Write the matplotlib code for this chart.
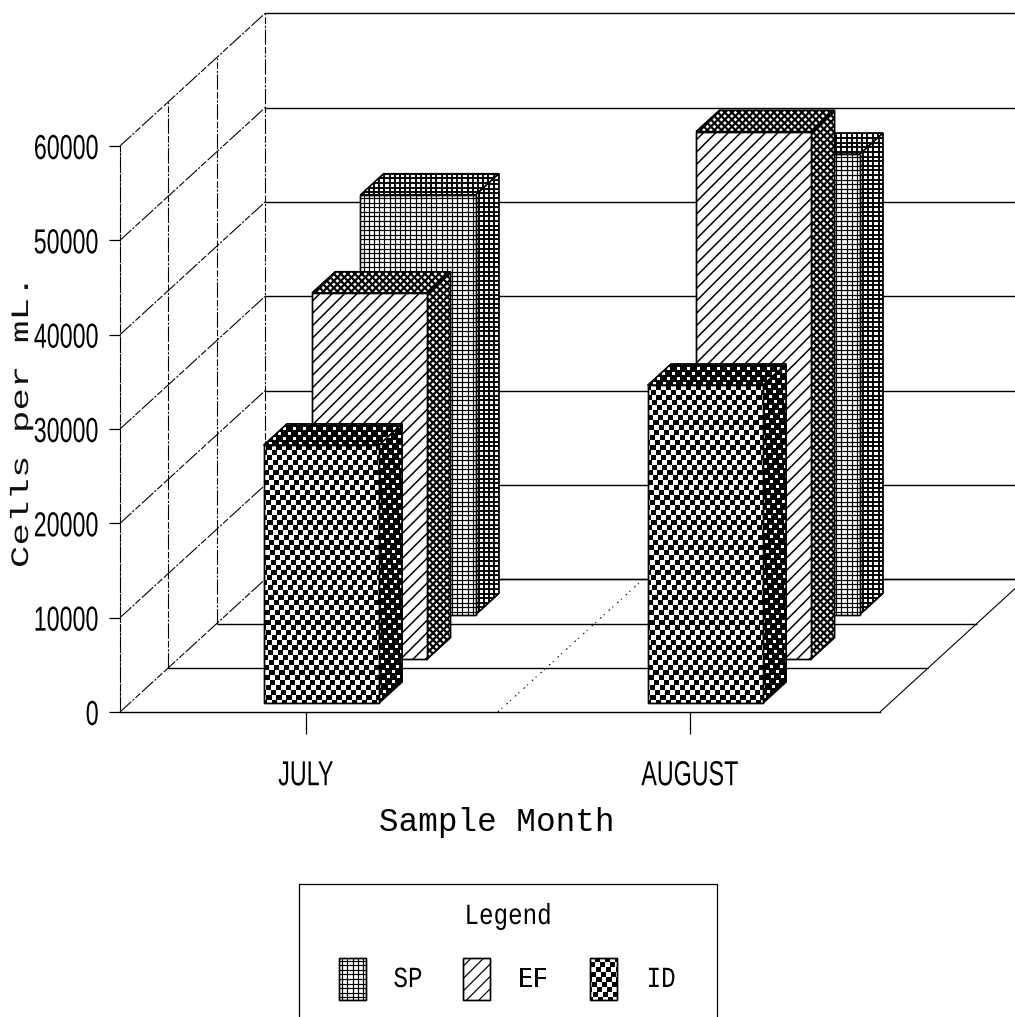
import numpy as np
import matplotlib
matplotlib.use('Agg')
import matplotlib.pyplot as plt
from matplotlib.patches import Polygon
from matplotlib.collections import LineCollection, PolyCollection
from matplotlib.patheffects import AbstractPathEffect
from matplotlib.transforms import IdentityTransform, Affine2D

months = ['JULY', 'AUGUST']
series = ['SP', 'EF', 'ID']
sp_vals = [44500, 48800]
ef_vals = [38800, 55900]
id_vals = [27350, 33700]
yticks = [0, 10000, 20000, 30000, 40000, 50000, 60000]

SANS = ['Liberation Sans', 'DejaVu Sans']
MONO = ['Liberation Mono', 'DejaVu Sans Mono']
DASH = (0, (14, 1.5, 2, 1.5, 6, 2))
DOT = (0, (1.5, 3, 1, 5))

W, H = 1015, 1017
fig = plt.figure(figsize=(W/100, H/100), dpi=100)
ax = fig.add_axes([120/W, 1-712/H, 760/W, 566/H])
ax.set_xlim(-0.484, 1.495)
ax.set_ylim(0, 60000)
ax.patch.set_visible(False)

# oblique depth step, data units per row
DX = 0.126
DY = 4690


class Stretch(AbstractPathEffect):
    # the scanned labels are narrower or wider than any installed font
    def __init__(self, sx, anchor=0.5):
        super().__init__()
        self.sx = sx
        self.anchor = anchor

    def draw_path(self, renderer, gc, tpath, affine, rgbFace=None):
        ext = tpath.get_extents()
        a = ext.x0 + self.anchor*ext.width
        t = Affine2D().translate(-a, 0).scale(self.sx, 1).translate(a, 0)
        renderer.draw_path(gc, tpath, t + affine, rgbFace)


def proj(x, v, d):
    return (x + d*DX, v + d*DY)


def hatch(a, verts, kind, lw=1.0, z=3):
    # pattern in device pixels, clipped to the polygon
    p = Polygon(verts, closed=True, fc='white', ec='black', lw=1.0, zorder=z, clip_on=False)
    a.add_patch(p)
    px = a.transData.transform(np.array(verts))
    x0, y0 = px.min(axis=0)-2
    x1, y1 = px.max(axis=0)+2
    h = y1-y0
    if kind == 'check':
        squares = []
        for j, y in enumerate(np.arange(y0, y1, 5.0)):
            for x in np.arange(x0 - 20 + (j % 2)*5.0, x1 + 10, 10.0):
                # rows drift a little, as in the scan
                sx = x - ((y-y0)*0.08 % 10.0)
                squares.append([(sx, y), (sx+lw, y), (sx+lw, y+lw), (sx, y+lw)])
        art = PolyCollection(squares, facecolors='black', edgecolors='none', transform=IdentityTransform(), zorder=z)
    else:
        segs = []
        if kind == 'grid':
            for y in np.arange(y0, y1, 4.6):
                segs.append([(x0, y), (x1, y)])
            for x in np.arange(x0, x1, 5.2):
                segs.append([(x, y0), (x, y1)])
        if kind == 'diag':
            for x in np.arange(x0-h, x1, 12.4):
                segs.append([(x, y0), (x+h, y1)])
        if kind == 'fine':
            for x in np.arange(x0-h, x1+h, 7.0):
                segs.append([(x, y0), (x+h, y1)])
                segs.append([(x, y0), (x-h, y1)])
        art = LineCollection(segs, colors='black', linewidths=lw*0.72, transform=IdentityTransform(), zorder=z)
    a.add_collection(art, autolim=False)
    art.set_clip_path(p)
    art.set_clip_box(None)
    a.add_patch(Polygon(verts, closed=True, fc='none', ec='black', lw=1.0, zorder=z, clip_on=False))


def wire(xs, ys, ls='-', lw=1.1):
    ax.plot(xs, ys, color='black', lw=lw*0.72, ls=ls, zorder=1, clip_on=False, solid_capstyle='butt')


x0, x1 = ax.get_xlim()
# walls and floor
for v in yticks:
    a = proj(x0, v, 0)
    b = proj(x0, v, 3)
    wire([a[0], b[0]], [a[1], b[1]], ls=DASH)
    wire([b[0], b[0]+x1-x0], [b[1], b[1]], lw=1.4)
for d in [1, 2, 3]:
    a = proj(x0, 0, d)
    b = proj(x0, 60000, d)
    wire([a[0], b[0]], [a[1], b[1]], ls=DASH)
    c = proj(x1, 0, d)
    wire([a[0], c[0]], [a[1], c[1]], lw=1.4)
a = proj(x1, 0, 0)
b = proj(x1, 0, 3)
wire([a[0], b[0]], [a[1], b[1]])
a = proj(0.5, 0, 0)
b = proj(0.5, 0, 3)
wire([a[0], b[0]], [a[1], b[1]], ls=DOT)

# bars, back row first
BAR_L = -0.135
BAR_W = 0.30
BAR_D = 0.48
rows = [(2.2, sp_vals, 'grid', 'grid', 1.2, 1.9), (1.2, ef_vals, 'diag', 'fine', 1.5, 2.2), (0.2, id_vals, 'check', 'check', 5.2, 7.0)]
for d, vals, front, side, lw_f, lw_s in rows:
    for i, v in enumerate(vals):
        l = i + BAR_L
        r = l + BAR_W
        hatch(ax, [proj(l, v, d), proj(r, v, d), proj(r, v, d+BAR_D), proj(l, v, d+BAR_D)], side, lw_s)
        hatch(ax, [proj(r, 0, d), proj(r, 0, d+BAR_D), proj(r, v, d+BAR_D), proj(r, v, d)], side, lw_s)
        hatch(ax, [proj(l, 0, d), proj(r, 0, d), proj(r, v, d), proj(l, v, d)], front, lw_f)

ax.set_xticks([0, 1])
ax.set_xticklabels(months, family=SANS, fontsize=25)
ax.set_yticks(yticks)
ax.set_yticklabels([str(v) for v in yticks], family=SANS, fontsize=25)
ax.tick_params(axis='y', length=8, width=0.9, pad=7)
ax.tick_params(axis='x', length=16, width=0.9, pad=18)
for t in ax.get_yticklabels():
    t.set_path_effects([Stretch(0.67, 1.0)])
for t in ax.get_xticklabels():
    t.set_path_effects([Stretch(0.67, 0.5)])
ax.spines['top'].set_visible(False)
ax.spines['right'].set_visible(False)
ax.spines['left'].set_linestyle(DASH)
ax.spines['left'].set_linewidth(0.8)
ax.spines['bottom'].set_linewidth(1.0)
ax.spines['left'].set_zorder(1)

ax.set_xlabel('Sample Month', family=MONO, fontsize=23.5)
ax.xaxis.set_label_coords((497-120)/760, -(822-712)/566, transform=ax.transAxes)
ax.xaxis.label.set_verticalalignment('center')
ax.set_ylabel('Cells per mL.', family=MONO, fontsize=18, color='#111111')
ax.yaxis.set_label_coords((21-120)/760, (712-423)/566, transform=ax.transAxes)
ax.yaxis.label.set_verticalalignment('center')
ax.yaxis.label.set_path_effects([Stretch(1.5, 0.5)])

# legend box runs off the bottom of the page
lg = fig.add_axes([0, 0, 1, 1])
lg.set_xlim(0, W)
lg.set_ylim(H, 0)
lg.axis('off')
lg.plot([299, 299, 717, 717], [H, 884, 884, H], color='black', lw=0.9)
small = [Stretch(0.83, 0.5)]
lg.text(508, 916, 'Legend', family=MONO, fontsize=21, ha='center', va='center', path_effects=small)
sw_x = [339, 463, 590]
tx_x = [408, 533, 661]
kinds = ['grid', 'diag', 'check']
sw_lw = [1.2, 1.2, 5.2]
for s, sx, tx, k, w in zip(series, sw_x, tx_x, kinds, sw_lw):
    hatch(lg, [(sx, 958), (sx+27, 958), (sx+27, 1000), (sx, 1000)], k, w)
    lg.text(tx, 979, s, family=MONO, fontsize=21, ha='center', va='center', path_effects=small)

fig.savefig('out.png', dpi=100)
